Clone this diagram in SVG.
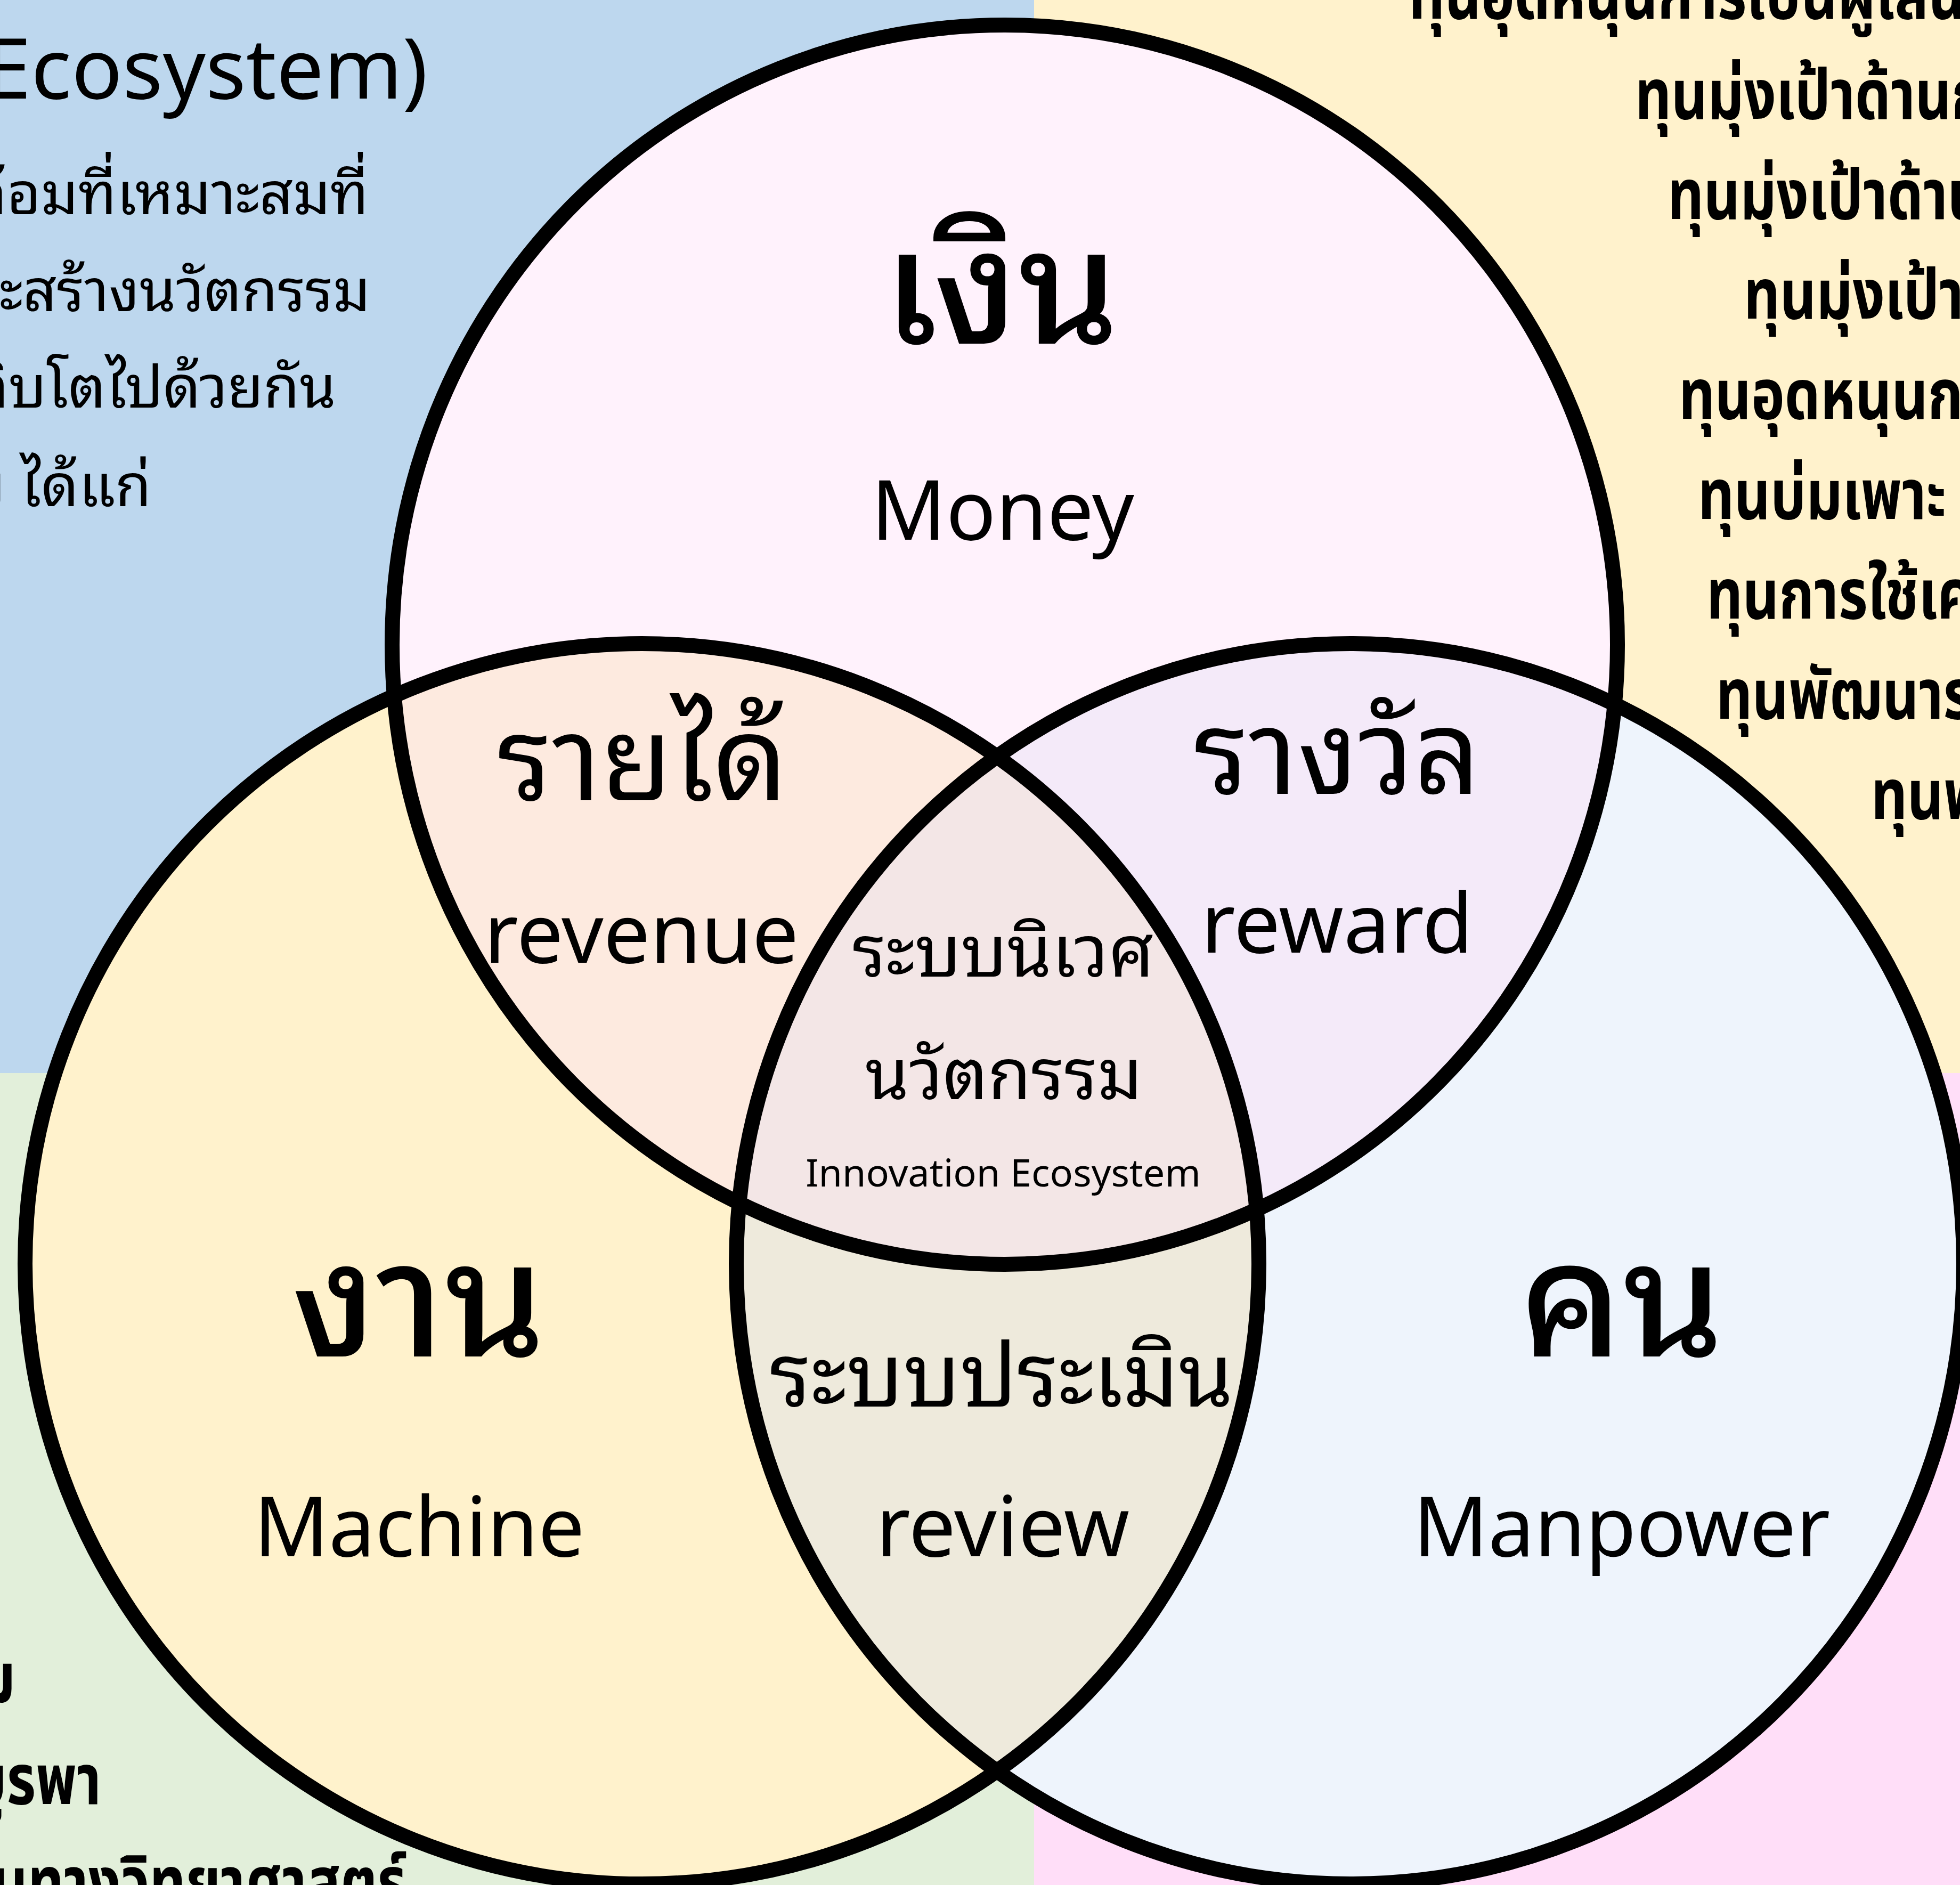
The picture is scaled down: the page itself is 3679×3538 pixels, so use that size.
<svg xmlns="http://www.w3.org/2000/svg" width="3679" height="3538" viewBox="0 0 3679 3538">
<style>
.th{font-family:"Noto Sans Thai Looped","Noto Looped Thai","Noto Sans Thai","Noto Sans","Open Sans",sans-serif;fill:#000}
.thc{font-family:"Noto Sans Thai","Noto Sans","Open Sans",sans-serif;fill:#000}
.en{font-family:"Noto Sans","Open Sans",sans-serif;fill:#000}
.big{font-size:300px;text-anchor:middle;font-weight:500}
.mid{font-size:218px;text-anchor:middle}
.lab{font-size:155px;text-anchor:middle}
.body{font-size:110px;text-anchor:end}
.cond{font-size:132px;font-weight:700}
.ol{fill:none;stroke:#000;stroke-width:28}
</style>
<defs>
<ellipse id="eT" cx="1886" cy="1210" rx="1150" ry="1163"/>
<ellipse id="eL" cx="1205" cy="2372" rx="1158" ry="1164"/>
<ellipse id="eR" cx="2534" cy="2372" rx="1152" ry="1164"/>
<clipPath id="cL"><use href="#eL"/></clipPath>
<clipPath id="cR"><use href="#eR"/></clipPath>
</defs>
<g id="background">
<rect x="0" y="0" width="1941" height="2014" fill="#BDD7EE"/>
<rect x="1941" y="0" width="1738" height="2014" fill="#FFF2CC"/>
<rect x="0" y="2014" width="1941" height="1524" fill="#E2EFDA"/>
<rect x="1941" y="2014" width="1738" height="1524" fill="#FFDEF8"/>
</g>
<g id="side-text">
<text class="en" x="803" y="185" font-size="158" text-anchor="end">Ecosystem)</text>
<text class="th body" x="692" y="402">ล้อมที่เหมาะสมที่</text>
<text class="th body" x="695" y="584">ะสร้างนวัตกรรม</text>
<text class="th body" x="631" y="765">ติบโตไปด้วยกัน</text>
<text class="th body" x="284" y="950">บ ได้แก่</text>
<g class="thc cond">
<text transform="translate(2644,35) scale(0.8,1)">ทุนอุดหนุนการเป็นผู้เล่น</text>
<text transform="translate(3069,223) scale(0.8,1)">ทุนมุ่งเป้าด้านก</text>
<text transform="translate(3130,411) scale(0.8,1)">ทุนมุ่งเป้าด้าน</text>
<text transform="translate(3273,598) scale(0.8,1)">ทุนมุ่งเป้า</text>
<text transform="translate(3151,786) scale(0.8,1)">ทุนอุดหนุนก</text>
<text transform="translate(3187,974) scale(0.8,1)">ทุนบ่มเพาะ</text>
<text transform="translate(3203,1161) scale(0.8,1)">ทุนการใช้เค</text>
<text transform="translate(3221,1349) scale(0.8,1)">ทุนพัฒนาร</text>
<text transform="translate(3512,1537) scale(0.8,1)">ทุนพ</text>
<text transform="translate(29,3194) scale(0.8,1)" text-anchor="end">ม</text>
<text transform="translate(190,3386) scale(0.8,1)" text-anchor="end">บูรพา</text>
<text transform="translate(763,3578) scale(0.8,1)" text-anchor="end">นทางวิทยาศาสตร์</text>
</g>
</g>
<g id="node-money"><use href="#eT" fill="#FFF2FC"/></g>
<g id="node-machine"><use href="#eL" fill="#FFF2CC"/></g>
<g id="node-manpower"><use href="#eR" fill="#EEF4FC"/></g>
<g id="node-revenue"><use href="#eT" fill="#FDEADF" clip-path="url(#cL)"/></g>
<g id="node-reward"><use href="#eT" fill="#F4EAF9" clip-path="url(#cR)"/></g>
<g id="node-review"><use href="#eL" fill="#EEEADC" clip-path="url(#cR)"/></g>
<g id="node-ecosystem"><g clip-path="url(#cL)"><use href="#eT" fill="#F3E6E6" clip-path="url(#cR)"/></g></g>
<g id="outlines">
<use href="#eT" class="ol"/>
<use href="#eL" class="ol"/>
<use href="#eR" class="ol"/>
</g>
<g id="labels">
<text class="th big" x="1879" y="645">เงิน</text>
<text class="en lab" x="1882" y="1013" font-size="162">Money</text>
<text class="th mid" x="1206" y="1502">รายได้</text>
<text class="en lab" x="1204" y="1807" font-size="148">revenue</text>
<text class="th mid" x="2510" y="1490">รางวัล</text>
<text class="en lab" x="2510" y="1788" font-size="142">reward</text>
<text class="th" x="1883" y="1833" font-size="134" text-anchor="middle">ระบบนิเวศ</text>
<text class="th" x="1884" y="2063" font-size="132" text-anchor="middle">นวัตกรรม</text>
<text class="en" x="1883" y="2227" font-size="72" text-anchor="middle">Innovation Ecosystem</text>
<text class="th big" x="786" y="2546">งาน</text>
<text class="en lab" x="787" y="2921" font-size="158">Machine</text>
<text class="th" x="1880" y="2640" font-size="165" text-anchor="middle">ระบบประเมิน</text>
<text class="en" x="1882" y="2921" font-size="157" text-anchor="middle">review</text>
<text class="th big" x="3044" y="2546">คน</text>
<text class="en lab" x="3044" y="2921">Manpower</text>
</g>
</svg>
